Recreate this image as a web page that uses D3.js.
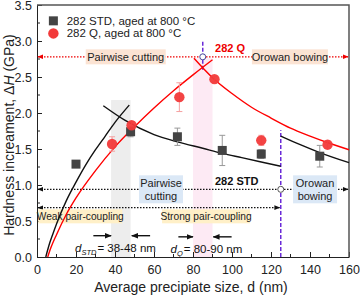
<!DOCTYPE html>
<html>
<head>
<meta charset="utf-8">
<script src="https://cdn.jsdelivr.net/npm/d3@7"></script>
<style>
  body { margin: 0; background: #fff; }
  svg { font-family: "Liberation Sans", Arial, sans-serif; }
</style>
</head>
<body>
<svg id="chart" width="360" height="297"></svg>
<script>
// measured points
const stdD = [20, 48, 72, 95, 115, 145];
const stdH = [1.29, 1.74, 1.67, 1.48, 1.43, 1.40];
const stdErr = [0.03, 0.07, 0.12, 0.21, 0.06, 0.15];
const qD = [38.5, 48.5, 73, 91, 115, 149];
const qH = [1.57, 1.83, 2.22, 2.47, 1.62, 1.56];
const qErr = [0.10, 0.05, 0.20, 0.04, 0.07, 0.05];

// model curves
const stdWeak = [[4.5, 0], [6, 0.15], [8, 0.31], [10, 0.46], [15, 0.78], [20, 1.04], [25, 1.28], [30, 1.49], [35, 1.68], [40, 1.87], [47.3, 2.11]];
const stdOrowan = [[34, 2.10], [45, 1.90], [60, 1.70], [72, 1.60], [85, 1.51], [95, 1.44], [105, 1.38], [115, 1.32], [125, 1.26]];
const stdOrowan2 = [[125, 1.68], [135, 1.56], [145, 1.45], [160, 1.31]];
const qWeak = [[5.5, 0], [7, 0.12], [10, 0.31], [15, 0.59], [20, 0.82], [30, 1.20], [40, 1.53], [50, 1.81], [60, 2.07], [70, 2.31], [80, 2.53], [90, 2.74]];
const qOrowan = [[80.5, 2.76], [90, 2.49], [100, 2.27], [110, 2.08], [120, 1.93], [130, 1.79], [140, 1.68], [150, 1.58], [160, 1.49]];

const xTicks = [0, 20, 40, 60, 80, 100, 120, 140, 160];
const yTicks = [0.0, 0.5, 1.0, 1.5, 2.0, 2.5, 3.0, 3.5];

const svg = d3.select("#chart");
const margin = {left: 37, right: 11, top: 5, bottom: 40};
const W = 360, H = 297;
const x = d3.scaleLinear().domain([0, 160]).range([margin.left, W - margin.right]);
const y = d3.scaleLinear().domain([0, 3.5]).range([H - margin.bottom, margin.top]);

const defs = svg.append("defs");
function arrow(id, color) {
  defs.append("marker").attr("id", id).attr("viewBox", "0 0 10 10")
    .attr("refX", 9).attr("refY", 5).attr("markerWidth", 5).attr("markerHeight", 5)
    .attr("orient", "auto-start-reverse")
    .append("path").attr("d", "M0,1 L10,5 L0,9 Z").attr("fill", color);
}
arrow("ar", "#e00");
arrow("ak", "#111");

// shaded bands
svg.append("rect").attr("x", x(38)).attr("width", x(48) - x(38))
  .attr("y", y(2.18)).attr("height", y(0) - y(2.18)).attr("fill", "#ededed");
svg.append("rect").attr("x", x(80)).attr("width", x(90) - x(80))
  .attr("y", y(2.76)).attr("height", y(0) - y(2.76)).attr("fill", "#fdeaf4");

// axes
const gx = svg.append("g").attr("transform", `translate(0,${y(0)})`)
  .call(d3.axisBottom(x).tickValues(xTicks).tickSizeInner(-5).tickSizeOuter(0).tickPadding(8));
const gy = svg.append("g").attr("transform", `translate(${x(0)},0)`)
  .call(d3.axisLeft(y).tickValues(yTicks).tickFormat(d3.format(".1f")).tickSizeInner(-5).tickSizeOuter(0).tickPadding(5));
[gx, gy].forEach(g => {
  g.selectAll("text").attr("font-size", 12.5).attr("fill", "#222").attr("font-family", "Liberation Sans, Arial, sans-serif");
  g.selectAll("line,path").attr("stroke", "#222");
});
// minor ticks
svg.append("g").selectAll("line").data(d3.range(10, 160, 20)).join("line")
  .attr("x1", d => x(d)).attr("x2", d => x(d)).attr("y1", y(0)).attr("y2", y(0) - 3).attr("stroke", "#222");
svg.append("g").selectAll("line").data(d3.range(0.25, 3.5, 0.5)).join("line")
  .attr("x1", x(0)).attr("x2", x(0) + 3).attr("y1", d => y(d)).attr("y2", d => y(d)).attr("stroke", "#222");
// frame top/right
svg.append("path").attr("d", `M${x(0)},${y(3.5)} H${x(160)} V${y(0)}`)
  .attr("fill", "none").attr("stroke", "#555").attr("stroke-width", 1.5);

// axis titles
svg.append("text").attr("x", (x(0) + x(160)) / 2 - 2).attr("y", 292).attr("text-anchor", "middle")
  .attr("font-size", 14).attr("fill", "#222").text("Average precipiate size, d (nm)");
const yt = svg.append("text").attr("transform", `translate(14,${(y(0) + y(3.5)) / 2 + 4}) rotate(-90)`)
  .attr("text-anchor", "middle").attr("font-size", 14).attr("fill", "#222");
yt.append("tspan").text("Hardness increament, \u0394");
yt.append("tspan").attr("font-style", "italic").text("H");
yt.append("tspan").text(" (GPa)");

// dotted guide lines
function hline(x0, x1, v, color, mk) {
  svg.append("line").attr("x1", x(x0) + 1).attr("x2", x(x1) - 1).attr("y1", y(v)).attr("y2", y(v))
    .attr("stroke", color).attr("stroke-width", 1.2).attr("stroke-dasharray", "1.5,1.5")
    .attr("marker-start", `url(#${mk})`).attr("marker-end", `url(#${mk})`);
}
function label(cx, cv, lines, bg, w, h, fs) {
  svg.append("rect").attr("x", x(cx) - w / 2).attr("y", y(cv) - h / 2).attr("width", w).attr("height", h).attr("fill", bg);
  const t = svg.append("text").attr("text-anchor", "middle").attr("font-size", fs || 11).attr("fill", "#222");
  lines.forEach((s, i) => t.append("tspan").attr("x", x(cx))
    .attr("y", y(cv) + 4 + (i - (lines.length - 1) / 2) * 12.5).text(s));
}
hline(0, 160, 2.78, "#e00", "ar");
label(45.5, 2.78, ["Pairwise cutting"], "#fbe3d3", 80, 15);
label(129.7, 2.78, ["Orowan bowing"], "#fbe3d3", 76, 15);

hline(0, 160, 0.94, "#111", "ak");
label(63.6, 0.94, ["Pairwise", "cutting"], "#dbe8f6", 44, 28);
label(142.6, 0.94, ["Orowan", "bowing"], "#dbe8f6", 44, 28);

hline(0, 125, 0.685, "#111", "ak");
label(22.2, 0.565, ["Weak pair-coupling"], "#fff0c8", 84, 14, 10.2);
label(86.7, 0.565, ["Strong pair-coupling"], "#fff0c8", 88, 14, 10.2);

svg.append("text").attr("x", x(102.4)).attr("y", y(1.05) + 4).attr("text-anchor", "middle")
  .attr("font-size", 11).attr("font-weight", "bold").attr("fill", "#111").text("282 STD");
svg.append("text").attr("x", x(91.3)).attr("y", y(2.9) + 4)
  .attr("font-size", 11).attr("font-weight", "bold").attr("fill", "#e00").text("282 Q");

// purple dashed transitions
svg.append("line").attr("x1", x(125)).attr("x2", x(125)).attr("y1", y(0)).attr("y2", y(1.76))
  .attr("stroke", "#6a2bd8").attr("stroke-width", 1.5).attr("stroke-dasharray", "4,2");
svg.append("line").attr("x1", x(85)).attr("x2", x(85)).attr("y1", y(2.6)).attr("y2", y(3.0))
  .attr("stroke", "#6a2bd8").attr("stroke-width", 1.5).attr("stroke-dasharray", "4,2");

// model curves
const line = d3.line().x(d => x(d[0])).y(d => y(d[1])).curve(d3.curveMonotoneX);
[[stdWeak, "#111"], [stdOrowan, "#111"], [stdOrowan2, "#111"], [qWeak, "#f00"], [qOrowan, "#f00"]]
  .forEach(([data, c]) => svg.append("path").attr("d", line(data)).attr("fill", "none")
    .attr("stroke", c).attr("stroke-width", 1.4));

// open circles at transitions
svg.append("circle").attr("cx", x(85)).attr("cy", y(2.78)).attr("r", 3)
  .attr("fill", "#fff").attr("stroke", "#4a4a9a").attr("stroke-width", 1);
svg.append("circle").attr("cx", x(125)).attr("cy", y(0.94)).attr("r", 3)
  .attr("fill", "#fff").attr("stroke", "#555").attr("stroke-width", 1);

// error bars
function errBars(ds, hs, es, color) {
  const g = svg.append("g").attr("stroke", color).attr("stroke-width", 1);
  ds.forEach((d, i) => {
    const x0 = x(d), y1 = y(hs[i] + es[i]), y2 = y(hs[i] - es[i]);
    g.append("line").attr("x1", x0).attr("x2", x0).attr("y1", y1).attr("y2", y2);
    g.append("line").attr("x1", x0 - 3).attr("x2", x0 + 3).attr("y1", y1).attr("y2", y1);
    g.append("line").attr("x1", x0 - 3).attr("x2", x0 + 3).attr("y1", y2).attr("y2", y2);
  });
}
errBars(stdD, stdH, stdErr, "#999");
errBars(qD, qH, qErr, "#f5a0a0");

svg.append("g").selectAll("rect").data(stdD).join("rect")
  .attr("x", d => x(d) - 4.5).attr("y", (d, i) => y(stdH[i]) - 4.5)
  .attr("width", 9).attr("height", 9).attr("fill", "#444");
svg.append("g").selectAll("circle").data(qD).join("circle")
  .attr("cx", d => x(d)).attr("cy", (d, i) => y(qH[i])).attr("r", 5.2)
  .attr("fill", "#f23a3a").attr("fill-opacity", 0.95);

// legend
svg.append("rect").attr("x", x(8.4) - 4.5).attr("y", y(3.28) - 4.5).attr("width", 9).attr("height", 9).attr("fill", "#444");
svg.append("circle").attr("cx", x(8.4)).attr("cy", y(3.105)).attr("r", 5.2).attr("fill", "#f23a3a");
svg.append("text").attr("x", x(15.2)).attr("y", y(3.28) + 4).attr("font-size", 11.5).attr("fill", "#222").text("282 STD, aged at 800 \u00b0C");
svg.append("text").attr("x", x(15.2)).attr("y", y(3.105) + 4).attr("font-size", 11.5).attr("fill", "#222").text("282 Q, aged at 800 \u00b0C");

// size range annotations
function bandNote(xa0, xa1, xb0, xb1, v, tx, tv, sub, rest) {
  [[xa0, xa1], [xb0, xb1]].forEach(([a, b]) =>
    svg.append("line").attr("x1", x(a)).attr("x2", x(b)).attr("y1", y(v)).attr("y2", y(v))
      .attr("stroke", "#111").attr("stroke-width", 1.4).attr("marker-end", "url(#ak)"));
  const t = svg.append("text").attr("x", x(tx)).attr("y", y(tv) + 5).attr("font-size", 11.5).attr("fill", "#111");
  t.append("tspan").attr("font-style", "italic").text("d");
  t.append("tspan").attr("font-style", "italic").attr("font-size", 7.5).attr("dy", 3).text(sub);
  t.append("tspan").attr("dy", -3).attr("dx", 1).text("= " + rest);
}
bandNote(28.9, 38, 58, 48.6, 0.296, 19.5, 0.14, "STD", "38-48 nm");
bandNote(72.5, 80, 99.8, 90.4, 0.28, 68.5, 0.12, "Q", "80-90 nm");
</script>
</body>
</html>
